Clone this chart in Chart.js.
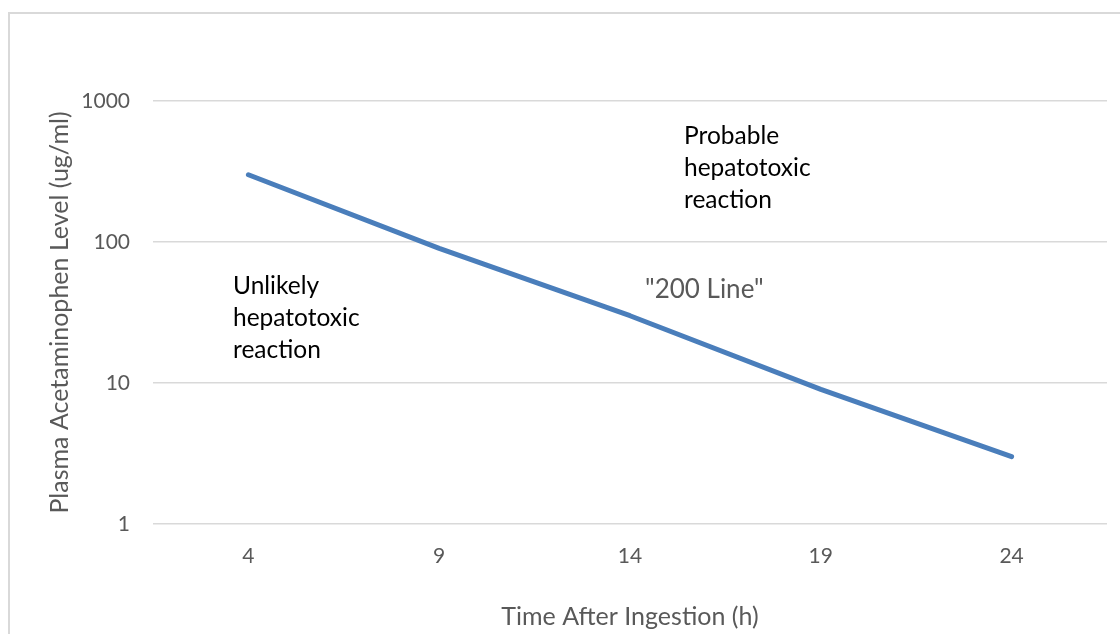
<!DOCTYPE html>
<html>
<head>
<meta charset="utf-8">
<script src="https://cdn.jsdelivr.net/npm/chart.js@4.4.0/dist/chart.umd.min.js"></script>
<style>
  html, body { margin: 0; padding: 0; background: #fff; overflow: hidden; }
  #wrap { position: relative; width: 1120px; height: 634px; }
  #frame { position: absolute; left: 8px; top: 12px; width: 1200px; height: 700px;
           border-left: 2px solid #d9d9d9; border-top: 2px solid #d9d9d9; }
  #myChart { position: absolute; left: 0; top: 0; }
</style>
</head>
<body>
<div id="wrap">
  <div id="frame"></div>
  <canvas id="myChart" width="1120" height="634"></canvas>
</div>
<script>
const hours = ['4', '9', '14', '19', '24'];
const levels = [300, 90, 30, 9, 3];
const yTickValues = [1, 10, 100, 1000];

const unlikelyLines = ['Unlikely', 'hepatotoxic', 'reaction'];
const probableLines = ['Probable', 'hepatotoxic', 'reaction'];
const lineLabel = '"200 Line"';

const myChartElement = document.getElementById('myChart');
const axisGray = '#595959';

// text boxes placed in the plot like the original sheet
const notesPlugin = {
  id: 'notes',
  afterDatasetsDraw(chart) {
    const ctx = chart.ctx;
    ctx.save();
    ctx.textAlign = 'left';
    ctx.textBaseline = 'alphabetic';
    ctx.font = '24.5px Lato';
    ctx.fillStyle = '#000';
    unlikelyLines.forEach((t, i) => ctx.fillText(t, 233, 294 + i * 32));
    probableLines.forEach((t, i) => ctx.fillText(t, 684, 144 + i * 32));
    ctx.font = '26px Lato';
    ctx.fillStyle = axisGray;
    ctx.fillText(lineLabel, 645, 298);
    ctx.restore();
  }
};

let myChart = new Chart(myChartElement, {
  type: 'line',
  data: {
    labels: hours,
    datasets: [
      {
        data: levels,
        borderColor: '#4A7EBB',
        borderWidth: 5,
        borderCapStyle: 'round',
        borderJoinStyle: 'round',
        pointRadius: 0,
        tension: 0,
        fill: false
      }
    ]
  },
  options: {
    responsive: false,
    animation: false,
    layout: {
      padding: { top: 101, right: 13, left: 0, bottom: 0 }
    },
    plugins: {
      legend: { display: false },
      tooltip: { enabled: false }
    },
    scales: {
      x: {
        offset: true,
        grid: { display: false, drawTicks: false },
        border: { display: false },
        ticks: {
          color: axisGray,
          font: { family: 'Lato', size: 21 },
          padding: 20
        },
        title: {
          display: true,
          text: 'Time After Ingestion (h)',
          color: axisGray,
          font: { family: 'Lato', size: 25 },
          padding: { top: 0, bottom: 2 }
        },
        afterFit(scale) { scale.height = 110; }
      },
      y: {
        type: 'logarithmic',
        min: 1,
        max: 1000,
        grid: { color: '#d9d9d9', lineWidth: 1.5, drawTicks: false },
        border: { display: false },
        afterBuildTicks(scale) {
          scale.ticks = yTickValues.map(v => ({ value: v }));
        },
        ticks: {
          color: axisGray,
          font: { family: 'Lato', size: 21 },
          padding: 23,
          callback: v => String(v)
        },
        title: {
          display: true,
          text: 'Plasma Acetaminophen Level (ug/ml)',
          color: axisGray,
          font: { family: 'Lato', size: 25 },
          padding: { top: 45, bottom: 0 }
        },
        afterFit(scale) { scale.width = 153; }
      }
    }
  },
  plugins: [notesPlugin]
});
</script>
</body>
</html>
